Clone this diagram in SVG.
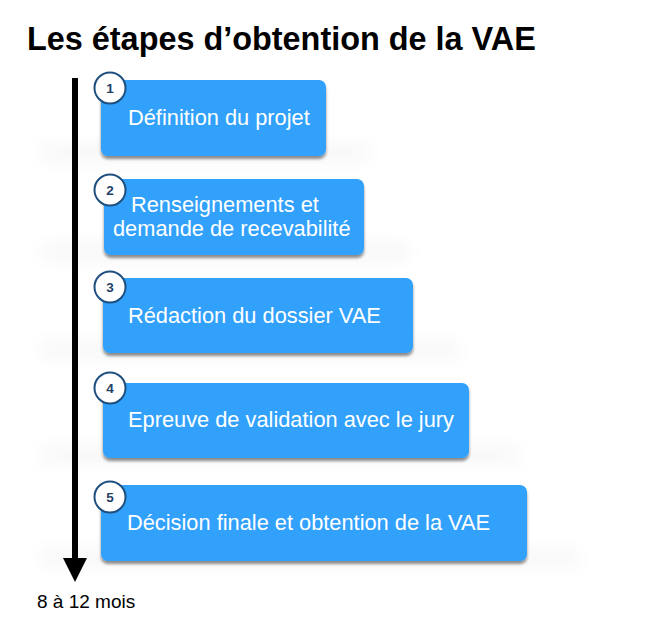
<svg xmlns="http://www.w3.org/2000/svg" width="662" height="642" viewBox="0 0 662 642">
<defs>
<style>
.box{fill:#32a1fc;}
.lbl{font-family:"Liberation Sans",Arial,sans-serif;font-size:21.8px;fill:#ffffff;}
.num-c{fill:#ffffff;stroke:#1e4f7f;stroke-width:2;}
.num{font-family:"Liberation Sans",Arial,sans-serif;font-size:13.5px;font-weight:bold;fill:#1e3f66;text-anchor:middle;}
.wide{fill:#000000;opacity:0.045;filter:url(#wb);}
</style>
<filter id="sh" x="-10%" y="-10%" width="120%" height="130%">
<feGaussianBlur in="SourceAlpha" stdDeviation="1.6"/>
<feOffset dx="0" dy="2.5" result="b"/>
<feComponentTransfer><feFuncA type="linear" slope="0.45"/></feComponentTransfer>
<feMerge><feMergeNode/><feMergeNode in="SourceGraphic"/></feMerge>
</filter>
<filter id="wb" filterUnits="userSpaceOnUse" x="0" y="0" width="662" height="642">
<feGaussianBlur stdDeviation="10"/>
</filter>
</defs>
<rect width="662" height="642" fill="#ffffff"/>
<text x="27" y="50" font-family="'Liberation Sans',Arial,sans-serif" font-size="32.4" font-weight="bold" fill="#000">Les étapes d’obtention de la VAE</text>

<g id="shadows">
<rect class="wide" x="40" y="146" width="330" height="14"/>
<rect class="wide" x="40" y="245" width="370" height="14"/>
<rect class="wide" x="40" y="343" width="420" height="14"/>
<rect class="wide" x="40" y="448" width="480" height="14"/>
<rect class="wide" x="40" y="551" width="540" height="14"/>
</g>

<g id="connectors">
<line x1="75" y1="78" x2="75" y2="562" stroke="#000" stroke-width="6"/>
<polygon points="63,558 87,558 75,582" fill="#000"/>
</g>

<g id="step1">
<rect class="box" x="101" y="80" width="225" height="76" rx="7" filter="url(#sh)"/>
<text class="lbl" x="128" y="125">Définition du projet</text>
<circle class="num-c" cx="110" cy="88" r="15.5"/>
<text class="num" x="110" y="93">1</text>
</g>

<g id="step2">
<rect class="box" x="104" y="179" width="260" height="76" rx="7" filter="url(#sh)"/>
<text class="lbl" x="131" y="212">Renseignements et</text>
<text class="lbl" x="113" y="236">demande de recevabilité</text>
<circle class="num-c" cx="110" cy="190" r="15.5"/>
<text class="num" x="110" y="195">2</text>
</g>

<g id="step3">
<rect class="box" x="103" y="278" width="310" height="75" rx="7" filter="url(#sh)"/>
<text class="lbl" x="128" y="323">Rédaction du dossier VAE</text>
<circle class="num-c" cx="110" cy="287" r="15.5"/>
<text class="num" x="110" y="292">3</text>
</g>

<g id="step4">
<rect class="box" x="103" y="383" width="366" height="75" rx="7" filter="url(#sh)"/>
<text class="lbl" x="128" y="427">Epreuve de validation avec le jury</text>
<circle class="num-c" cx="110" cy="388" r="15.5"/>
<text class="num" x="110" y="393">4</text>
</g>

<g id="step5">
<rect class="box" x="101" y="485" width="426" height="76" rx="7" filter="url(#sh)"/>
<text class="lbl" x="127" y="530">Décision finale et obtention de la VAE</text>
<circle class="num-c" cx="110" cy="497" r="15.5"/>
<text class="num" x="110" y="502">5</text>
</g>

<text x="37" y="608" font-family="'Liberation Sans',Arial,sans-serif" font-size="19" fill="#000">8 à 12 mois</text>
</svg>
